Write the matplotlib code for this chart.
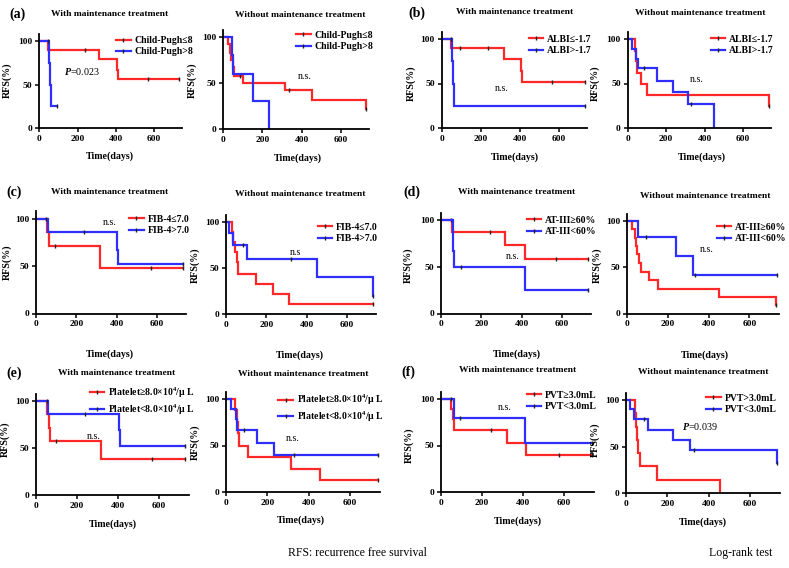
import matplotlib
matplotlib.use('Agg')
import matplotlib.pyplot as plt
from matplotlib.lines import Line2D

W, H = 789, 568
XMAX, YMAX = 745, 108
RED = '#ff2828'
BLUE = '#2e2eff'

# ---- survival data: event times (days), survival (%) after each event, censored times
# (a) Child-Pugh
a_with_red_t, a_with_red_s, a_with_red_c = [0, 47, 314, 405, 413], [100, 90, 79, 67, 56], [240, 570, 730]
a_with_blue_t, a_with_blue_s, a_with_blue_c = [0, 52, 56, 60], [100, 75, 50, 25], [47, 91]
a_wo_red_t = [0, 22, 33, 40, 48, 57, 100, 315, 453, 730]
a_wo_red_s = [100, 92, 83, 75, 67, 58, 50, 42, 31, 22]
a_wo_red_c = [85, 334, 730]
a_wo_blue_t, a_wo_blue_s, a_wo_blue_c = [0, 43, 51, 153, 235], [100, 80, 60, 30, 0], []
# (b) ALBI
b_with_red_t, b_with_red_s, b_with_red_c = [0, 46, 317, 406, 413], [100, 90, 77, 64, 52], [94, 239, 568, 733]
b_with_blue_t, b_with_blue_s, b_with_blue_c = [0, 55, 60, 65], [100, 75, 50, 25], [48, 733]
b_wo_red_t, b_wo_red_s, b_wo_red_c = [0, 38, 43, 50, 67, 102, 733], [100, 87, 75, 62, 50, 37.5, 25], [733]
b_wo_blue_t = [0, 21, 45, 55, 150, 235, 315, 450]
b_wo_blue_s = [100, 89, 78, 67, 53, 40, 27, 0]
b_wo_blue_c = [86, 327]
# (c) FIB-4
c_with_red_t, c_with_red_s, c_with_red_c = [0, 53, 64, 317], [100, 86, 71, 48], [94, 569, 730]
c_with_blue_t, c_with_blue_s, c_with_blue_c = [0, 58, 400, 407], [100, 86, 67, 52], [52, 237, 730]
c_wo_red_t = [0, 28, 37, 45, 53, 62, 150, 235, 315]
c_wo_red_s = [100, 89, 78, 67, 56, 44, 33, 22, 11]
c_wo_red_c = [730]
c_wo_blue_t, c_wo_blue_s, c_wo_blue_c = [0, 17, 37, 102, 453, 730], [100, 88, 75, 60, 40, 20], [85, 324, 730]
# (d) AT-III
d_with_red_t, d_with_red_s, d_with_red_c = [0, 55, 319, 415], [100, 87.5, 73, 58.5], [52, 245, 572, 730]
d_with_blue_t, d_with_blue_s, d_with_blue_c = [0, 58, 62, 66, 415], [100, 83, 67, 50, 25], [99, 730]
d_wo_red_t = [0, 25, 37, 42, 47, 58, 67, 108, 150, 450, 730]
d_wo_red_s = [100, 91, 82, 73, 64, 55, 45, 36, 27, 18, 9]
d_wo_red_c = [730]
d_wo_blue_t, d_wo_blue_s, d_wo_blue_c = [0, 55, 238, 322], [100, 83, 62.5, 42], [92, 335, 735]
# (e) Platelet
e_with_red_t, e_with_red_s, e_with_red_c = [0, 52, 62, 66, 315], [100, 86, 71, 57, 38], [95, 565, 724]
e_with_blue_t, e_with_blue_s, e_with_blue_c = [0, 60, 403, 410], [100, 86, 69, 52], [52, 240, 724]
e_wo_red_t = [0, 44, 52, 56, 65, 105, 315, 455]
e_wo_red_s = [100, 88, 75, 63, 50, 37.5, 25, 12.5]
e_wo_red_c = [734]
e_wo_blue_t, e_wo_blue_s, e_wo_blue_c = [0, 24, 47, 55, 152, 234], [100, 89, 78, 67, 53, 40], [89, 331, 734]
# (f) PVT
f_with_red_t, f_with_red_s, f_with_red_c = [0, 50, 57, 62, 319, 416], [100, 89, 78, 67, 53, 40], [244, 574, 736]
f_with_blue_t, f_with_blue_s, f_with_blue_c = [0, 65, 411], [100, 80, 53], [50, 94, 736]
f_wo_red_t = [0, 42, 48, 55, 58, 66, 150, 453]
f_wo_red_s = [100, 86, 71, 57, 43, 28.5, 14, 0]
f_wo_red_c = []
f_wo_blue_t, f_wo_blue_s, f_wo_blue_c = [0, 21, 37, 105, 227, 311, 731], [100, 90, 80, 68, 57, 46, 32], [89, 331, 731]

x_ticks = [0, 200, 400, 600]
y_ticks = [0, 50, 100]

plt.rcParams['font.family'] = ['Liberation Serif', 'DejaVu Serif']
plt.rcParams['mathtext.fontset'] = 'custom'
plt.rcParams['mathtext.rm'] = 'Liberation Serif:bold'
plt.rcParams['mathtext.it'] = 'Liberation Serif:italic:bold'
plt.rcParams['mathtext.bf'] = 'Liberation Serif:bold'

fig = plt.figure(figsize=(W / 100, H / 100), dpi=100)


def fx(px):
    return px / W


def fy(py):
    return 1 - py / H


def surv_at(t, s, x):
    val = s[0]
    for ti, si in zip(t, s):
        if ti <= x:
            val = si
    return val


def km(ax, t, s, c, color):
    end = max([t[-1]] + list(c))
    ax.step(t + [end], s + [s[-1]], where='post', color=color, lw=1.6, solid_joinstyle='miter')
    if c:
        ax.plot(c, [surv_at(t, s, x) for x in c], ls='none', marker='|', ms=3.5,
                mew=1.0, color='#222222')


# (box: day-0 px, day-XMAX px, 0% px, 100% px), title xy, ylabel xy, xlabel xy
panels = [
    dict(box=(39.3, 181.6, 128, 41), title='With maintenance treatment', tpos=(110, 14), tag='(a)', tagpos=(17, 14),
         ypos=(12, 80), xpos=(110, 151), ylab='RFS(%)',
         red=(a_with_red_t, a_with_red_s, a_with_red_c), blue=(a_with_blue_t, a_with_blue_s, a_with_blue_c),
         labels=('Child-Pugh≤8', 'Child-Pugh>8'), leg=(0.54, 0.98), note=(r'$\it{P}$=0.023', 130, 65, 'left')),
    dict(box=(223.3, 369, 129, 37), title='Without maintenance treatment', tpos=(300, 15),
         ypos=(197, 80), xpos=(298, 153), ylab='RFS(%)',
         red=(a_wo_red_t, a_wo_red_s, a_wo_red_c), blue=(a_wo_blue_t, a_wo_blue_s, a_wo_blue_c),
         labels=('Child-Pugh≤8', 'Child-Pugh>8'), leg=(0.50, 0.99), note=('n.s.', 418, 57, 'center')),
    dict(box=(441.7, 587, 128, 39), title='With maintenance treatment', tpos=(515, 12), tag='(b)', tagpos=(417, 13),
         ypos=(416, 83), xpos=(515, 152), ylab='RFS(%)',
         red=(b_with_red_t, b_with_red_s, b_with_red_c), blue=(b_with_blue_t, b_with_blue_s, b_with_blue_c),
         labels=('ALBI≤-1.7', 'ALBI>-1.7'), leg=(0.60, 0.97), note=('n.s.', 307, 44, 'center')),
    dict(box=(627.7, 771, 128, 39), title='Without maintenance treatment', tpos=(700, 13),
         ypos=(600, 83), xpos=(702, 152), ylab='RFS(%)',
         red=(b_wo_red_t, b_wo_red_s, b_wo_red_c), blue=(b_wo_blue_t, b_wo_blue_s, b_wo_blue_c),
         labels=('ALBI≤-1.7', 'ALBI>-1.7'), leg=(0.58, 0.97), note=('n.s.', 360, 54, 'center')),
    dict(box=(36, 186, 313.5, 219), title='With maintenance treatment', tpos=(110, 192), tag='(c)', tagpos=(14, 192),
         ypos=(12, 262), xpos=(110, 349), ylab='RFS(%)',
         red=(c_with_red_t, c_with_red_s, c_with_red_c), blue=(c_with_blue_t, c_with_blue_s, c_with_blue_c),
         labels=('FIB-4≤7.0', 'FIB-4>7.0'), leg=(0.62, 0.97), note=('n.s.', 367, 96, 'center')),
    dict(box=(226, 376, 314, 222), title='Without maintenance treatment', tpos=(300, 194),
         ypos=(200, 265), xpos=(300, 350), ylab='RFS(%)',
         red=(c_wo_red_t, c_wo_red_s, c_wo_red_c), blue=(c_wo_blue_t, c_wo_blue_s, c_wo_blue_c),
         labels=('FIB-4≤7.0', 'FIB-4>7.0'), leg=(0.61, 0.92), note=('n.s', 345, 67, 'center')),
    dict(box=(441, 591, 313.5, 220), title='With maintenance treatment', tpos=(517, 192), tag='(d)', tagpos=(412, 192),
         ypos=(413, 265), xpos=(517, 349), ylab='RFS(%)',
         red=(d_with_red_t, d_with_red_s, d_with_red_c), blue=(d_with_blue_t, d_with_blue_s, d_with_blue_c),
         labels=('AT-III≥60%', 'AT-III<60%'), leg=(0.57, 0.97), note=('n.s.', 355, 61, 'center')),
    dict(box=(627, 779, 313.5, 221), title='Without maintenance treatment', tpos=(705, 196),
         ypos=(602, 265), xpos=(705, 350), ylab='RFS(%)',
         red=(d_wo_red_t, d_wo_red_s, d_wo_red_c), blue=(d_wo_blue_t, d_wo_blue_s, d_wo_blue_c),
         labels=('AT-III≥60%', 'AT-III<60%'), leg=(0.59, 0.91), note=('n.s.', 392, 69, 'center')),
    dict(box=(36, 189, 494.7, 401), title='With maintenance treatment', tpos=(117, 373), tag='(e)', tagpos=(14, 373),
         ypos=(10, 439), xpos=(113, 519), ylab='RFS(%)',
         red=(e_with_red_t, e_with_red_s, e_with_red_c), blue=(e_with_blue_t, e_with_blue_s, e_with_blue_c),
         labels=(r'Platelet≥8.0×10$^{4}$/μ L', r'Platelet<8.0×10$^{4}$/μ L'), leg=(0.35, 1.08),
         note=('n.s.', 281, 62, 'center')),
    dict(box=(226, 380, 492, 399), title='Without maintenance treatment', tpos=(303, 374),
         ypos=(200, 442), xpos=(301, 515), ylab='RFS(%)',
         red=(e_wo_red_t, e_wo_red_s, e_wo_red_c), blue=(e_wo_blue_t, e_wo_blue_s, e_wo_blue_c),
         labels=(r'Platelet≥8.0×10$^{4}$/μ L', r'Platelet<8.0×10$^{4}$/μ L'), leg=(0.34, 0.99),
         note=('n.s.', 323, 57, 'center')),
    dict(box=(441, 594, 492, 399), title='With maintenance treatment', tpos=(518, 370), tag='(f)', tagpos=(408, 372),
         ypos=(414, 445), xpos=(518, 516), ylab='RFS(%)',
         red=(f_with_red_t, f_with_red_s, f_with_red_c), blue=(f_with_blue_t, f_with_blue_s, f_with_blue_c),
         labels=('PVT≥3.0mL', 'PVT<3.0mL'), leg=(0.56, 1.01), note=('n.s.', 311, 91, 'center')),
    dict(box=(626, 780, 493, 400), title='Without maintenance treatment', tpos=(703, 372),
         ypos=(600, 440), xpos=(703, 517), ylab='PFS(%)',
         red=(f_wo_red_t, f_wo_red_s, f_wo_red_c), blue=(f_wo_blue_t, f_wo_blue_s, f_wo_blue_c),
         labels=('PVT>3.0mL', 'PVT<3.0mL'), leg=(0.52, 0.99), note=(r'$\it{P}$=0.039', 271, 71, 'left')),
]

for p in panels:
    x0, x1, y0, y100 = p['box']
    ytop = y0 - (y0 - y100) * YMAX / 100
    ax = fig.add_axes([fx(x0), fy(y0), (x1 - x0) / W, (y0 - ytop) / H])
    km(ax, *p['red'], RED)
    km(ax, *p['blue'], BLUE)
    ax.set_xlim(0, XMAX)
    ax.set_ylim(0, YMAX)
    ax.set_xticks(x_ticks)
    ax.set_yticks(y_ticks)
    for side in ('top', 'right'):
        ax.spines[side].set_visible(False)
    for side in ('left', 'bottom'):
        ax.spines[side].set_linewidth(1.3)
    ax.tick_params(direction='out', length=3, width=1.1, labelsize=6.8, pad=2)
    for lab in ax.get_xticklabels() + ax.get_yticklabels():
        lab.set_fontweight('bold')

    ax.set_ylabel(p['ylab'], fontsize=7.2, fontweight='bold')
    ax.yaxis.set_label_coords(fx(p['ypos'][0]), fy(p['ypos'][1]), transform=fig.transFigure)
    ax.set_xlabel('Time(days)', fontsize=7.2, fontweight='bold')
    ax.xaxis.set_label_coords(fx(p['xpos'][0]), fy(p['xpos'][1]), transform=fig.transFigure)
    fig.text(fx(p['tpos'][0]), fy(p['tpos'][1]), p['title'], ha='center', va='center',
             fontsize=6.8, fontweight='bold')
    if 'tag' in p:
        fig.text(fx(p['tagpos'][0]), fy(p['tagpos'][1]), p['tag'], ha='center', va='center',
                 fontsize=10, fontweight='bold')

    handles = [Line2D([0], [0], color=col, lw=1.6, marker='|', ms=3.5, mec='#222222', mew=1.0)
               for col in (RED, BLUE)]
    ax.legend(handles, p['labels'], loc='upper left', bbox_to_anchor=p['leg'], frameon=False,
              prop={'weight': 'bold', 'size': 7}, numpoints=1, handlelength=1.5,
              handletextpad=0.4, labelspacing=0.25, borderpad=0, borderaxespad=0)
    txt, nx, ny, ha = p['note']
    ax.text(nx, ny, txt, ha=ha, va='center', fontsize=7.2)

fig.text(fx(357), fy(553), 'RFS: recurrence free survival', ha='center', va='center', fontsize=8.5)
fig.text(fx(741), fy(553), 'Log-rank test', ha='center', va='center', fontsize=8.5)

fig.savefig('out.png', dpi=100)
